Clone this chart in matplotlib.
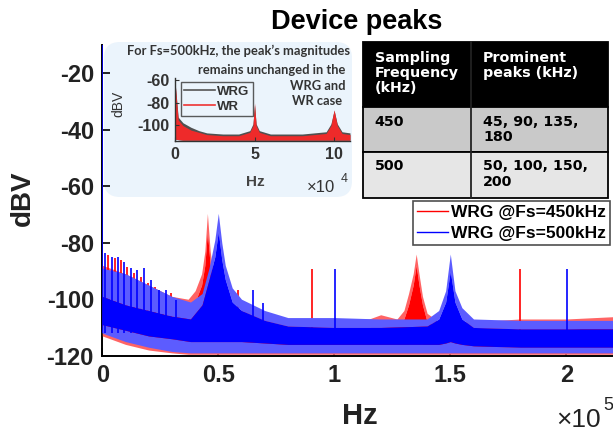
import matplotlib
matplotlib.use("Agg")
import matplotlib.pyplot as plt
from matplotlib.patches import FancyBboxPatch, Rectangle
from matplotlib.lines import Line2D
import numpy as np

plt.rcParams['font.family'] = ['Liberation Sans', 'DejaVu Sans']
plt.rcParams['axes.unicode_minus'] = False

# ---------------- data ----------------
# Fs = 450 kHz (red) : dense-band envelopes, frequency in kHz, level in dBV
red_f = [0, 10, 20, 30, 37, 40, 42.8, 44.2, 45.3, 46.5, 48, 52, 60, 70, 80, 100,
         115, 120, 127, 130, 132, 134, 135.3, 136.5, 138, 140, 145, 160, 180, 200, 225]
red_top = [-88, -91, -95, -99, -100, -97, -91, -83, -69.6, -83, -93, -100, -104, -106, -107, -107,
           -107, -105.5, -107, -104, -98, -91, -84, -91, -99, -105, -108, -108, -107, -107, -106]
red_core_top = [-99, -102, -104, -106, -105, -101, -95, -88, -76, -88, -97, -103, -106, -108, -109.5, -110,
                -110, -108, -109, -107, -102, -95, -88, -95, -102, -108, -110, -110.5, -110.5, -110.5, -110]
red_core_bot = [-110, -112, -114, -115, -115.5, -115.5, -115.5, -115.5, -115.5, -115.5, -115.5, -115.5, -116, -116, -116.5, -116.5,
                -116.5, -116.5, -116.5, -116.5, -116, -116, -116, -116, -116, -116.5, -117, -117, -117, -117, -117]
red_bot = [-113, -116, -118, -119, -119.5, -119.5, -119.5, -119.5, -119.5, -119.5, -119.5, -119.5, -119.5, -119.5, -119.5, -119.5,
           -119.5, -119.5, -119.5, -119.5, -119.5, -119.5, -119.5, -119.5, -119.5, -119.5, -119.5, -119.5, -119.5, -119.5, -119.5]
red_spike_f = [2.6, 5.6, 7.9, 10.8, 13.7, 16.6, 19.7, 22.6, 26.2, 29.8, 34.1, 58.6, 90.3, 180.0]
red_spike_db = [-84.4, -85.5, -86.1, -88.5, -90.8, -92.0, -94.4, -95.6, -97.9, -97.9, -100.3, -96.7, -89.4, -89.3]

# Fs = 500 kHz (blue)
blue_f = [0, 10, 20, 30, 38, 43, 46, 48.5, 50, 51.5, 53, 56, 60, 70, 80, 100, 120, 140,
          145, 148, 150, 152, 155, 160, 180, 200, 225]
blue_top = [-89, -91, -95, -99, -101, -98, -89, -79, -69.6, -80, -88, -96, -100, -104, -106.5, -106.5, -107, -107,
            -104, -97, -84, -97, -103, -107, -107.5, -107.5, -107.5]
blue_core_top = [-99, -102, -104, -106, -107, -102, -93, -85, -76, -86, -93, -101, -104, -107.5, -109.5, -110, -110, -109.5,
                 -107, -101, -90, -101, -107, -110, -110.5, -110.5, -110.5]
blue_core_bot = [-109, -111, -113, -114, -115, -115, -115, -115, -115, -115, -115, -115, -115, -115.5, -116, -116, -116, -116,
                 -116, -115.5, -115, -115.5, -116, -116.5, -117, -117, -117]
blue_bot = [-112, -115, -117, -118.5, -119, -119, -119, -119, -119, -119, -119, -119, -119, -119, -119, -119, -119, -119,
            -119, -119, -119, -119, -119, -119, -119, -119, -119]
blue_spike_f = [0.0, 1.2, 4.2, 6.8, 9.4, 12.2, 15.1, 18.0, 21.2, 24.3, 27.6, 31.9, 65.1, 69.4, 100.3, 200.2]
blue_spike_db = [-10, -83.7, -85.0, -85.0, -86.7, -89.1, -89.7, -89.1, -93.2, -96.7, -96.7, -100.3, -96.7, -101.4, -89.4, -89.3]

# inset: Fs = 500 kHz, WRG vs WR (frequency in units of 1e4 Hz)
inset_f = [0, 0.2, 0.5, 1.0, 1.5, 2.0, 3.0, 4.0, 4.7, 4.9, 5.0, 5.1, 5.3, 6.0, 8.0, 9.5, 9.8, 10.0, 10.2, 10.5, 11.0]
wr_top = [-61, -95, -100, -104, -106, -108, -109, -109, -106, -100, -80, -100, -106, -109, -109, -107, -100, -86, -100, -107, -108]
wr_bot = [-112.5, -113, -113.5, -113.5, -113.5, -113.5, -113.5, -113.5, -113.5, -113.5, -113.5, -113.5, -113.5, -113.5, -113.5, -113.5, -113.5, -113.5, -113.5, -113.5, -113.5]
wrg_top = [-61, -93, -98, -102, -105, -107, -108, -108, -105, -99, -82, -99, -105, -108, -108, -106, -99, -87, -99, -106, -107]
wrg_bot = wr_bot

x_ticks = [0, 0.5e5, 1e5, 1.5e5, 2e5]
x_tick_labels = ['0', '0.5', '1', '1.5', '2']
y_ticks = [-120, -100, -80, -60, -40, -20]
inset_x_ticks = [0, 5e4, 10e4]
inset_x_tick_labels = ['0', '5', '10']
inset_y_ticks = [-100, -80, -60]

legend_labels = ['WRG @Fs=450kHz', 'WRG @Fs=500kHz']
inset_legend_labels = ['WRG', 'WR']
table_header = ['Sampling\nFrequency\n(kHz)', 'Prominent\npeaks (kHz)']
table_rows = [['450', '45, 90, 135,\n180'], ['500', '50, 100, 150,\n200']]
inset_note = ["For Fs=500kHz, the peak\u2019s magnitudes", "remains unchanged in the", "WRG and", "WR case"]

# ---------------- figure ----------------
W, H = 613, 433
fig = plt.figure(figsize=(W / 100, H / 100), dpi=100)


def fx(px):
    return px / W


def fy(py):
    return 1 - py / H


# background overlay in pixel coordinates
bg = fig.add_axes([0, 0, 1, 1], zorder=0)
bg.set_xlim(0, W)
bg.set_ylim(H, 0)
bg.axis('off')
bg.add_patch(FancyBboxPatch((104, 42), 248, 155, boxstyle="round,pad=0,rounding_size=16",
                            facecolor='#ebf4fc', edgecolor='none'))

# table
tx0, tx1, tx2 = 362.7, 471, 608
ty = [42.3, 106.7, 151.7, 198.3]
fills = ['black', '#c9c9c9', '#e6e6e6']
for i in range(3):
    bg.add_patch(Rectangle((tx0, ty[i]), tx2 - tx0, ty[i + 1] - ty[i], facecolor=fills[i],
                           edgecolor='black', lw=1.3))
bg.plot([tx1, tx1], [ty[0], ty[3]], color='#222222', lw=1.3)
tfont = dict(family='DejaVu Sans', weight='bold', fontsize=10.3, va='top', ha='left', linespacing=1.1)
bg.text(tx0 + 12, 51, table_header[0], color='white', **tfont)
bg.text(tx1 + 12, 51, table_header[1], color='white', **tfont)
for r, yy in zip(table_rows, [114.5, 159.5]):
    bg.text(tx0 + 12, yy, r[0], color='black', **tfont)
    bg.text(tx1 + 12, yy, r[1], color='black', **tfont)

# note text in blue box
for line, yy, xr in zip(inset_note, [50.5, 70, 85.5, 101], [350, 345.5, 345, 342]):
    bg.text(xr, yy, line, ha='right', va='center', fontsize=9.3, family='Lato',
            weight='bold', color='#333333')

# ---------------- main axes ----------------
x_left, px_per_1e5 = 102.3, 232.0
xmax = 2.25e5
y_bot_px, y_top_px = 355.7, 45.0
ax = fig.add_axes([fx(x_left), fy(y_bot_px), (xmax / 1e5 * px_per_1e5) / W, (y_bot_px - y_top_px) / H],
                  zorder=1)
ax.patch.set_alpha(0)
ax.set_xlim(0, xmax)
ax.set_ylim(-120, -10)


def band(a, f, top, ctop, cbot, bot, color, light, z, scale=1e3):
    f = np.asarray(f) * scale
    a.fill_between(f, bot, cbot, color=light, lw=0, zorder=z)
    a.fill_between(f, ctop, top, color=light, lw=0, zorder=z)
    a.fill_between(f, cbot, ctop, color=color, lw=0, zorder=z)


band(ax, red_f, red_top, red_core_top, red_core_bot, red_bot, '#ff0000', '#ff6464', 2)
ax.vlines(np.asarray(red_spike_f) * 1e3, -112, red_spike_db, color='#ff0000', lw=1.2, zorder=2)
band(ax, blue_f, blue_top, blue_core_top, blue_core_bot, blue_bot, '#0000ff', '#5c5cff', 3)
ax.vlines(np.asarray(blue_spike_f) * 1e3, -112, blue_spike_db, color='#0000ff', lw=1.2, zorder=3)

for s in ['top', 'right']:
    ax.spines[s].set_visible(False)
for s in ['left', 'bottom']:
    ax.spines[s].set_linewidth(1.4)
ax.spines['left'].set_zorder(1)
ax.set_xticks(x_ticks)
ax.set_xticklabels(x_tick_labels)
ax.set_yticks(y_ticks)
ax.tick_params(direction='in', length=6, width=1.2, labelsize=17, pad=6)
for lab in ax.get_xticklabels() + ax.get_yticklabels():
    lab.set_fontweight('bold')
    lab.set_color('#222222')

handles = [Line2D([], [], color='#ff0000', lw=1), Line2D([], [], color='#0000ff', lw=1)]
leg = ax.legend(handles, legend_labels, loc='upper right', bbox_to_anchor=(fx(610), fy(201)),
                bbox_transform=fig.transFigure, fontsize=12.5, frameon=True, fancybox=False,
                handlelength=1.8, handletextpad=0.15, borderpad=0.25, labelspacing=0.3,
                borderaxespad=0)
leg.get_frame().set_edgecolor('#222222')
leg.get_frame().set_linewidth(1.2)
for t in leg.get_texts():
    t.set_fontweight('bold')

fig.text(fx(23), fy(198), 'dBV', rotation=90, ha='center', va='center', fontsize=20, weight='bold',
         color='#222222')
fig.text(fx(360), fy(416), 'Hz', ha='center', va='center', fontsize=21, weight='bold', color='#222222')
fig.text(fx(556), fy(420), '\u00d710', ha='left', va='center', fontsize=19, color='#222222')
fig.text(fx(603), fy(405), '5', ha='left', va='center', fontsize=13, color='#222222')
fig.text(fx(357), fy(22), 'Device peaks', ha='center', va='center', fontsize=19.5, weight='bold',
         color='black')

# ---------------- inset axes ----------------
i_left, i_right, i_bot, i_top = 175.0, 350.0, 141.0, 78.3
ia = fig.add_axes([fx(i_left), fy(i_bot), (i_right - i_left) / W, (i_bot - i_top) / H], zorder=2)
ia.patch.set_alpha(0)
ia.set_xlim(0, 1.1e5)
ia.set_ylim(-114.2, -58.5)
ia.fill_between(np.asarray(inset_f) * 1e4, wrg_bot, wrg_top, color='#505050', lw=0)
ia.fill_between(np.asarray(inset_f) * 1e4, wr_bot, np.asarray(wr_top) - 0.5, color='#ee2a2a', lw=0)
for s in ['top', 'right']:
    ia.spines[s].set_visible(False)
for s in ['left', 'bottom']:
    ia.spines[s].set_linewidth(1.0)
    ia.spines[s].set_color('#333333')
ia.set_xticks(inset_x_ticks)
ia.set_xticklabels(inset_x_tick_labels)
ia.set_yticks(inset_y_ticks)
ia.tick_params(direction='in', length=3, width=0.8, labelsize=11.5, pad=4, colors='#333333')
for lab in ia.get_xticklabels() + ia.get_yticklabels():
    lab.set_fontweight('bold')
ih = [Line2D([], [], color='#555555', lw=1.2), Line2D([], [], color='#ee3333', lw=1.2)]
ileg = ia.legend(ih, inset_legend_labels, loc='upper left', bbox_to_anchor=(fx(181), fy(82)),
                 bbox_transform=fig.transFigure, fontsize=9.5, frameon=True, fancybox=False,
                 handlelength=2.3, handletextpad=0.2, borderpad=0.25, labelspacing=0.25,
                 borderaxespad=0)
ileg.get_frame().set_edgecolor('#333333')
ileg.get_frame().set_facecolor('none')
ileg.get_frame().set_linewidth(1.0)
for t in ileg.get_texts():
    t.set_fontweight('bold')
    t.set_color('#333333')
fig.text(fx(118), fy(104), 'dBV', rotation=90, ha='center', va='center', fontsize=10, color='#333333')
fig.text(fx(255), fy(182), 'Hz', ha='center', va='center', fontsize=11, weight='bold', color='#444444')
fig.text(fx(307), fy(187), '\u00d710', ha='left', va='center', fontsize=12, color='#333333')
fig.text(fx(341), fy(179), '4', ha='left', va='center', fontsize=9, color='#333333')

fig.savefig('out.png', dpi=100)
